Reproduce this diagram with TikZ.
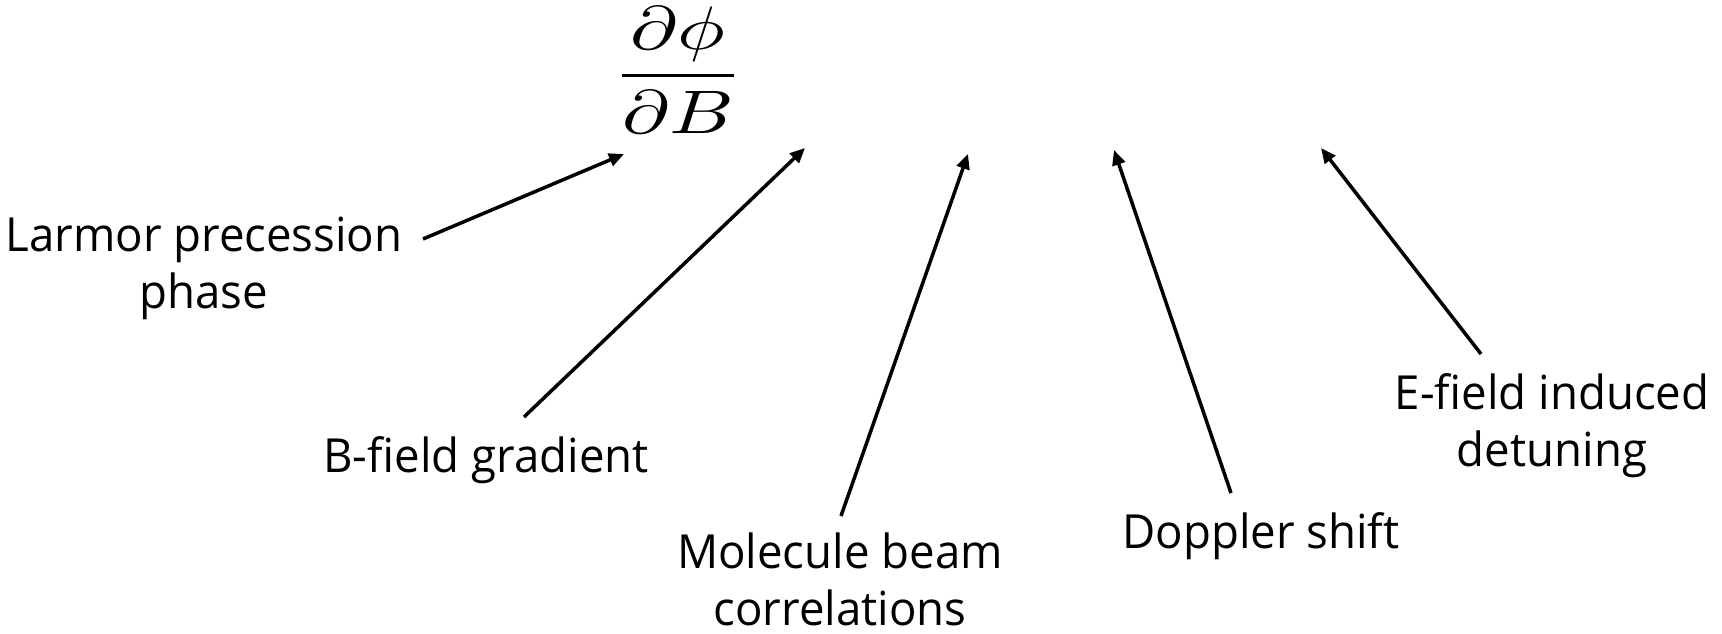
\documentclass[tikz,border=0pt]{standalone}
\usepackage{graphicx}
\usepackage{fontspec}
\setmainfont[FakeStretch=0.97]{Open Sans}
\usetikzlibrary{arrows.meta}
\begin{document}
\begin{tikzpicture}[x=1pt,y=-1pt,
  lbl/.style={font=\fontsize{47}{57}\selectfont, align=center, inner sep=0pt},
  ptr/.style={line width=3.5pt, -{Triangle[length=15pt,width=13pt]}}]
\useasboundingbox[fill=white] (0,0) rectangle (1722,634);

% the derivative that every effect feeds into
\node[inner sep=0pt] (frac) at (678,70)
  {\scalebox{8.0}[6.15]{$\displaystyle\frac{\partial\phi}{\partial B}$}};

% contributing effects (anchored at the baseline of their last line)
\node[lbl, anchor=base] (larmor)  at (204,308)  {Larmor precession\\phase};
\node[lbl, anchor=base] (bgrad)   at (486,472)  {B-field gradient};
\node[lbl, anchor=base] (mbeam)   at (840,625)  {Molecule beam\\correlations};
\node[lbl, anchor=base] (doppler) at (1261,548) {Doppler shift};
\node[lbl, anchor=base] (efield)  at (1552,466) {E-field induced\\detuning};

% arrow ends
\coordinate (t1) at (423,239);  \coordinate (h1) at (624,154);
\coordinate (t2) at (524,417);  \coordinate (h2) at (805,148);
\coordinate (t3) at (841,516);  \coordinate (h3) at (968,154);
\coordinate (t4) at (1231,493); \coordinate (h4) at (1114,150);
\coordinate (t5) at (1481,354); \coordinate (h5) at (1321,148);

\draw[ptr] (t1) -- (h1);
\draw[ptr] (t2) -- (h2);
\draw[ptr] (t3) -- (h3);
\draw[ptr] (t4) -- (h4);
\draw[ptr] (t5) -- (h5);
\end{tikzpicture}
\end{document}
